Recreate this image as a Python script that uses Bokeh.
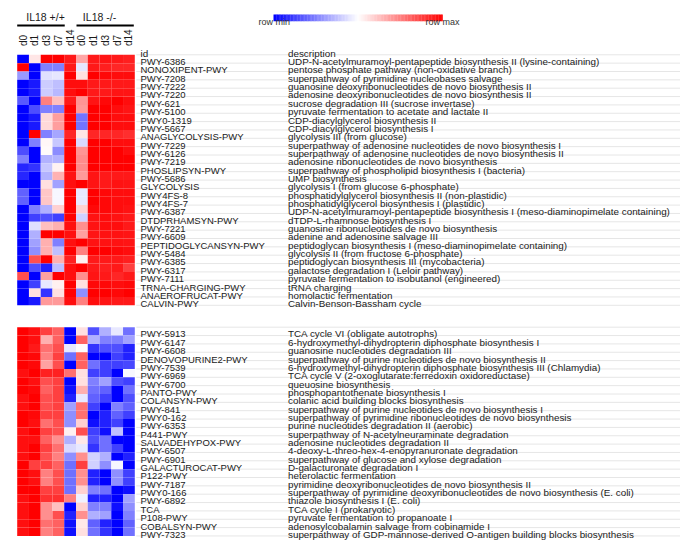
import math
from bokeh.plotting import figure
from bokeh.models import Range1d
from bokeh.core.properties import value
from bokeh.embed import file_html
from bokeh.resources import INLINE

# ---------------- data ----------------
groups = ["IL18 +/+", "IL18 -/-"]
days = ["d0", "d1", "d3", "d7", "d14"]

ids_top = ["PWY-6386", "NONOXIPENT-PWY", "PWY-7208", "PWY-7222", "PWY-7220", "PWY-621",
           "PWY-5100", "PWY0-1319", "PWY-5667", "ANAGLYCOLYSIS-PWY", "PWY-7229", "PWY-6126",
           "PWY-7219", "PHOSLIPSYN-PWY", "PWY-5686", "GLYCOLYSIS", "PWY4FS-8", "PWY4FS-7",
           "PWY-6387", "DTDPRHAMSYN-PWY", "PWY-7221", "PWY-6609", "PEPTIDOGLYCANSYN-PWY",
           "PWY-5484", "PWY-6385", "PWY-6317", "PWY-7111", "TRNA-CHARGING-PWY",
           "ANAEROFRUCAT-PWY", "CALVIN-PWY"]
desc_top = [
    "UDP-N-acetylmuramoyl-pentapeptide biosynthesis II (lysine-containing)",
    "pentose phosphate pathway (non-oxidative branch)",
    "superpathway of pyrimidine nucleobases salvage",
    "guanosine deoxyribonucleotides de novo biosynthesis II",
    "adenosine deoxyribonucleotides de novo biosynthesis II",
    "sucrose degradation III (sucrose invertase)",
    "pyruvate fermentation to acetate and lactate II",
    "CDP-diacylglycerol biosynthesis II",
    "CDP-diacylglycerol biosynthesis I",
    "glycolysis III (from glucose)",
    "superpathway of adenosine nucleotides de novo biosynthesis I",
    "superpathway of adenosine nucleotides de novo biosynthesis II",
    "adenosine ribonucleotides de novo biosynthesis",
    "superpathway of phospholipid biosynthesis I (bacteria)",
    "UMP biosynthesis",
    "glycolysis I (from glucose 6-phosphate)",
    "phosphatidylglycerol biosynthesis II (non-plastidic)",
    "phosphatidylglycerol biosynthesis I (plastidic)",
    "UDP-N-acetylmuramoyl-pentapeptide biosynthesis I (meso-diaminopimelate containing)",
    "dTDP-L-rhamnose biosynthesis I",
    "guanosine ribonucleotides de novo biosynthesis",
    "adenine and adenosine salvage III",
    "peptidoglycan biosynthesis I (meso-diaminopimelate containing)",
    "glycolysis II (from fructose 6-phosphate)",
    "peptidoglycan biosynthesis III (mycobacteria)",
    "galactose degradation I (Leloir pathway)",
    "pyruvate fermentation to isobutanol (engineered)",
    "tRNA charging",
    "homolactic fermentation",
    "Calvin-Benson-Bassham cycle",
]
vals_top = [
    [-1.00, 0.10, 1.00, 1.00, 0.90, 0.35, 0.90, 0.92, 0.90, 0.88],
    [1.00, -1.00, -0.50, -0.50, 0.90, -0.10, 0.90, 0.88, 0.85, 0.85],
    [-0.40, -1.00, -0.12, -0.10, 1.00, 0.12, 1.00, 0.97, 0.95, 0.95],
    [-1.00, -0.90, -0.20, -0.25, 0.95, 0.95, 0.90, 0.90, 0.90, 0.90],
    [-1.00, -0.90, -0.20, -0.28, 0.95, 1.00, 0.90, 0.90, 0.92, 0.92],
    [-0.65, -1.00, 0.50, 0.25, 0.90, 0.42, 0.92, 0.97, 1.00, 0.95],
    [-1.00, -0.70, -0.50, -0.50, 1.00, 0.40, 1.00, 1.00, 0.95, 0.92],
    [-1.00, -0.90, 0.15, 0.38, 1.00, -0.55, 1.00, 1.00, 0.95, 0.95],
    [-1.00, -0.90, 0.15, 0.38, 1.00, -0.55, 1.00, 1.00, 0.95, 0.95],
    [-1.00, 1.00, -0.50, -0.35, 0.85, 0.10, 0.85, 0.85, 0.85, 0.82],
    [-1.00, -0.50, 0.03, -0.22, 1.00, -0.15, 1.00, 1.00, 0.95, 0.95],
    [-0.70, -1.00, 0.02, -0.45, 1.00, 0.42, 1.00, 1.00, 1.00, 0.95],
    [-0.50, -1.00, -0.30, -0.30, 1.00, 0.45, 1.00, 1.00, 1.00, 1.00],
    [-0.85, -0.80, -0.22, 0.05, 1.00, 0.45, 1.00, 1.00, 1.00, 1.00],
    [-0.85, -1.00, -0.30, 0.30, 0.93, 0.40, 0.92, 0.90, 0.90, 0.90],
    [-1.00, -1.00, 0.12, -0.37, 0.94, 1.00, 0.92, 0.90, 0.93, 0.92],
    [-0.62, -1.00, 0.22, -0.03, 1.00, -0.09, 1.00, 0.97, 0.95, 0.95],
    [-0.62, -1.00, 0.22, -0.03, 1.00, -0.09, 1.00, 0.97, 0.95, 0.95],
    [-1.00, -0.50, -0.31, 0.18, 1.00, 0.18, 0.97, 0.97, 0.95, 0.93],
    [-1.00, -0.75, -0.69, -0.75, 1.00, -0.18, 0.93, 0.95, 0.93, 0.90],
    [-1.00, -0.12, 0.25, 0.31, 0.94, 0.44, 0.93, 0.95, 0.95, 0.90],
    [-1.00, -0.31, 1.00, 1.00, 0.94, 0.37, 0.92, 0.93, 0.93, 0.92],
    [-1.00, -0.37, 0.31, -0.50, 0.94, 1.00, 0.93, 0.93, 0.93, 0.92],
    [-1.00, -0.44, 0.31, -0.25, 1.00, 0.50, 1.00, 1.00, 0.97, 0.95],
    [-1.00, 0.69, 1.00, 0.31, 0.87, 0.06, 0.90, 0.90, 0.90, 0.88],
    [-1.00, -0.69, -0.87, -0.25, 0.94, 1.00, 0.90, 0.88, 0.90, 0.75],
    [0.69, -1.00, 0.37, 1.00, 0.94, 0.44, 0.92, 0.90, 0.85, 0.90],
    [-1.00, -0.75, -0.09, 0.06, 1.00, 0.12, 0.97, 0.97, 0.95, 0.97],
    [-1.00, 0.12, -0.80, 0.12, 1.00, -0.44, 1.00, 1.00, 0.97, 1.00],
    [-1.00, -0.90, 0.40, 0.40, 0.95, 0.50, 0.95, 0.92, 0.90, 0.90],
]

ids_bot = ["PWY-5913", "PWY-6147", "PWY-6608", "DENOVOPURINE2-PWY", "PWY-7539", "PWY-6969",
           "PWY-6700", "PANTO-PWY", "COLANSYN-PWY", "PWY-841", "PWY0-162", "PWY-6353",
           "P441-PWY", "SALVADEHYPOX-PWY", "PWY-6507", "PWY-6901", "GALACTUROCAT-PWY",
           "P122-PWY", "PWY-7187", "PWY0-166", "PWY-6892", "TCA", "P108-PWY",
           "COBALSYN-PWY", "PWY-7323"]
desc_bot = [
    "TCA cycle VI (obligate autotrophs)",
    "6-hydroxymethyl-dihydropterin diphosphate biosynthesis I",
    "guanosine nucleotides degradation III",
    "superpathway of purine nucleotides de novo biosynthesis II",
    "6-hydroxymethyl-dihydropterin diphosphate biosynthesis III (Chlamydia)",
    "TCA cycle V (2-oxoglutarate:ferredoxin oxidoreductase)",
    "queuosine biosynthesis",
    "phosphopantothenate biosynthesis I",
    "colanic acid building blocks biosynthesis",
    "superpathway of purine nucleotides de novo biosynthesis I",
    "superpathway of pyrimidine ribonucleotides de novo biosynthesis",
    "purine nucleotides degradation II (aerobic)",
    "superpathway of N-acetylneuraminate degradation",
    "adenosine nucleotides degradation II",
    "4-deoxy-L-threo-hex-4-enopyranuronate degradation",
    "superpathway of glucose and xylose degradation",
    "D-galacturonate degradation I",
    "heterolactic fermentation",
    "pyrimidine deoxyribonucleotides de novo biosynthesis II",
    "superpathway of pyrimidine deoxyribonucleotides de novo biosynthesis (E. coli)",
    "thiazole biosynthesis I (E. coli)",
    "TCA cycle I (prokaryotic)",
    "pyruvate fermentation to propanoate I",
    "adenosylcobalamin salvage from cobinamide I",
    "superpathway of GDP-mannose-derived O-antigen building blocks biosynthesis",
]
vals_bot = [
    [1.00, 0.94, 0.75, 0.62, -1.00, 0.12, -0.69, -0.31, -0.09, -0.56],
    [1.00, 0.94, 0.31, 0.62, -1.00, 0.62, -0.31, -0.50, -0.50, -0.37],
    [1.00, 0.90, 0.56, 0.69, -0.09, 0.02, -0.80, -0.69, -0.69, -0.87],
    [1.00, 0.97, 0.50, 0.75, -0.56, 0.62, -1.00, -1.00, -0.75, -0.87],
    [1.00, 0.97, 0.37, 0.69, -1.00, 0.62, -0.56, -0.75, -0.75, -0.72],
    [0.94, 1.00, 0.87, 0.87, 0.56, 0.12, -0.75, -0.75, -1.00, -0.03],
    [1.00, 0.94, 0.69, 0.75, -1.00, 0.12, -0.50, -0.37, -0.69, -0.75],
    [1.00, 0.97, 0.62, 0.75, -0.94, 0.31, -0.56, -0.62, -1.00, -0.56],
    [0.94, 1.00, 0.69, 0.75, -0.87, -0.09, -0.62, -0.75, -1.00, -0.69],
    [0.94, 1.00, 0.69, 0.75, -0.37, 0.56, -0.75, -1.00, -0.50, -0.62],
    [1.00, 0.97, 0.75, 0.75, -0.44, 0.56, -1.00, -0.87, -0.62, -0.75],
    [1.00, 0.94, 0.56, 0.69, -0.44, 0.18, -0.94, -0.87, -0.75, -1.00],
    [0.94, 1.00, 0.75, 0.69, 0.06, 0.69, -0.75, -0.94, -0.25, -1.00],
    [0.94, 0.94, 0.62, 0.44, -0.31, 0.09, -0.69, -0.56, -1.00, -1.00],
    [0.94, 1.00, 0.75, 0.56, -0.15, -0.09, -0.80, -0.56, -0.75, -1.00],
    [0.94, 1.00, 0.69, 0.50, -0.44, 0.44, -0.18, -0.31, -1.00, -0.87],
    [1.00, 0.75, 0.75, 0.62, -0.56, 0.75, -0.18, -0.44, -0.03, -1.00],
    [1.00, 0.94, 0.50, 0.69, -0.56, 0.44, -0.87, -1.00, -0.44, -0.75],
    [1.00, 0.94, 0.50, 0.69, -0.56, 0.44, -0.87, -1.00, -0.44, -0.75],
    [1.00, 1.00, 0.75, 0.75, -0.56, 0.18, -0.50, -0.56, -1.00, -0.94],
    [0.94, 1.00, 0.81, 0.81, 0.50, -0.06, -0.87, -0.87, -1.00, -0.37],
    [0.94, 1.00, 0.44, 0.25, -1.00, 0.18, -0.50, -0.50, -0.94, -0.44],
    [0.94, 1.00, 0.44, 0.69, -0.87, 0.44, -0.31, -0.37, -1.00, -0.50],
    [0.94, 1.00, 0.56, 0.62, -0.94, 0.09, -0.62, -0.87, -1.00, -0.62],
    [0.94, 1.00, 0.50, 0.62, -0.94, 0.12, -0.56, -0.80, -1.00, -0.56],
]

# ---------------- styling / layout ----------------
FONT = value("Liberation Sans")
W, H = 680, 540
X0 = 16.7          # left of heatmap (page px)
CW = 11.76         # column width
RH = 8.35          # row height
TOP1 = 54.3
TOP2 = 326.7
ID_X = 140
DESC_X = 287.5
ID_FS = "9.5px"
DESC_FS = "9.85px"
TXT_COL = "#1a1a1a"


def to_color(v):
    v = max(-1.0, min(1.0, v))
    if v < 0:
        c = int(round(255 * (1 + v)))
        return "#%02x%02xff" % (c, c)
    c = int(round(255 * (1 - v)))
    return "#ff%02x%02x" % (c, c)


p = figure(width=W, height=H, x_range=Range1d(0, W), y_range=Range1d(H, 0),
           output_backend="svg", toolbar_location=None, min_border=0,
           x_axis_location=None, y_axis_location=None)
p.grid.visible = False
p.outline_line_color = None
p.background_fill_color = "white"

ncol = len(groups) * len(days)

for top, ids, descs, vals in [(TOP1, ids_top, desc_top, vals_top),
                              (TOP2, ids_bot, desc_bot, vals_bot)]:
    L, R, T, B, C = [], [], [], [], []
    for r, row in enumerate(vals):
        for c, v in enumerate(row):
            L.append(X0 + c * CW)
            R.append(X0 + (c + 1) * CW)
            T.append(top + r * RH)
            B.append(top + (r + 1) * RH)
            C.append(to_color(v))
    p.quad(left=L, right=R, top=T, bottom=B, fill_color=C, line_color=None)

    n = len(ids)
    ys = [top + (r + 1) * RH - 1.6 for r in range(n)]
    seps = [top + r * RH for r in range(n + 1)]
    p.segment(x0=[X0 + ncol * CW + 1.5] * len(seps), x1=[684] * len(seps),
              y0=seps, y1=seps, line_color="#e6e6e6", line_width=1)
    p.text(x=[ID_X] * n, y=ys, text=ids, text_baseline="alphabetic", text_align="left",
           text_font=FONT, text_font_size=ID_FS, text_color=TXT_COL)
    p.text(x=[DESC_X] * n, y=ys, text=descs, text_baseline="alphabetic", text_align="left",
           text_font=FONT, text_font_size=DESC_FS, text_color=TXT_COL)

# column headers
p.text(x=[ID_X, DESC_X], y=[52.5, 52.5], text=["id", "description"],
       text_baseline="alphabetic", text_align="left", text_font=FONT,
       text_font_size=DESC_FS, text_color=TXT_COL)

# day labels (rotated)
cx = [X0 + (i + 0.5) * CW for i in range(ncol)]
p.text(x=cx, y=[45.5] * ncol, text=days * len(groups), angle=math.pi / 2,
       text_align="left", text_baseline="middle", text_font=FONT,
       text_font_size="10px", text_color=TXT_COL)

# group labels + brackets
gx = [45, 99]
p.text(x=gx, y=[16, 16], text=groups, text_align="center", text_baseline="middle",
       text_font=FONT, text_font_size="10.5px", text_color=TXT_COL)
p.segment(x0=[X0, X0 + 5 * CW + 0.5], x1=[X0 + 4 * CW + 0.5, X0 + 10 * CW - 1],
          y0=[25, 25], y1=[25, 25], line_color="black", line_width=1.8)

# colour bar
n_steps = 120
bx0, bx1, by0, by1 = 273, 442, 14, 20.7
bw = (bx1 - bx0) / n_steps
p.quad(left=[bx0 + i * bw for i in range(n_steps)],
       right=[bx0 + (i + 1) * bw + 0.3 for i in range(n_steps)],
       top=[by0] * n_steps, bottom=[by1] * n_steps,
       fill_color=[to_color(-1 + 2 * (i + 0.5) / n_steps) for i in range(n_steps)],
       line_color=None)
p.text(x=[258, 425], y=[21.5, 21.5], text=["row min", "row max"], text_align="left",
       text_baseline="middle", text_font=FONT, text_font_size="9px", text_color="#333333")

open("out.html", "w").write(file_html(p, INLINE))
